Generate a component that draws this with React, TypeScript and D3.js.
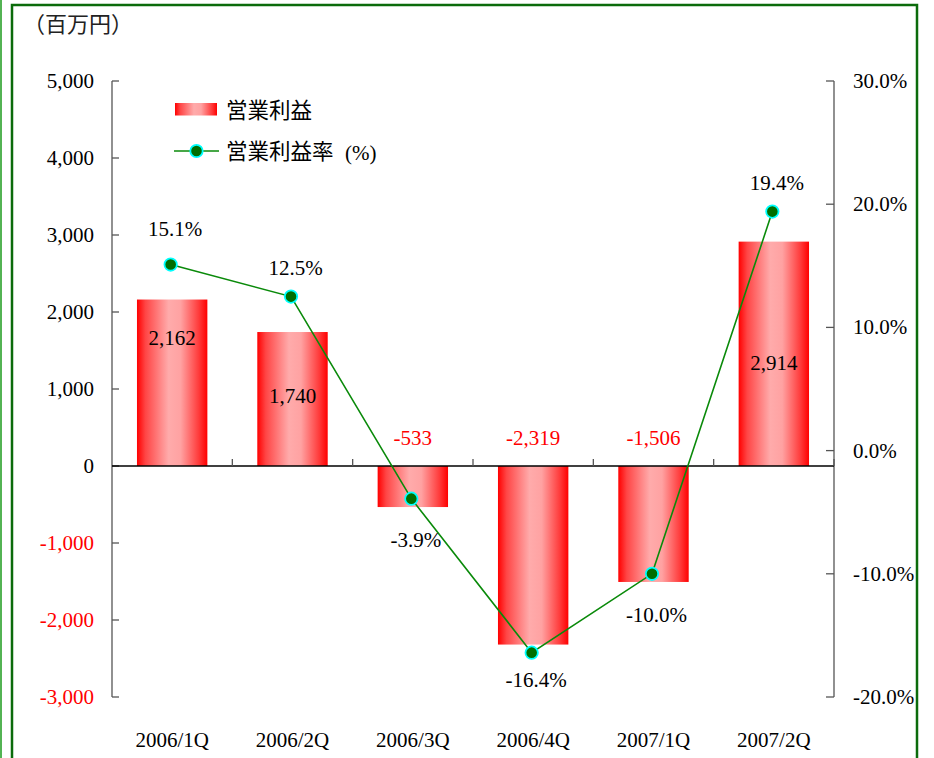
import React from "react";
import * as d3 from "d3";

const categories = ["2006/1Q", "2006/2Q", "2006/3Q", "2006/4Q", "2007/1Q", "2007/2Q"];
const operatingProfit = [2162, 1740, -533, -2319, -1506, 2914];
const profitRate = [15.1, 12.5, -3.9, -16.4, -10.0, 19.4];
const leftTicks = [5000, 4000, 3000, 2000, 1000, 0, -1000, -2000, -3000];
const rightTicks = [30, 20, 10, 0, -10, -20];

// layout offsets for labels (px)
const barLabelDy = [38, 64, 0, 0, 0, 121];
const rateLabelDy = [-36, -29, 41, 27, 41, -29];

const W = 934;
const H = 758;
const L = 112;
const R = 834;
const TOP = 81;
const BOT = 697;

const SERIF = "'Liberation Serif', 'Times New Roman', serif";
const CJK = "'Noto Sans CJK JP', 'Noto Sans', sans-serif";
const FS = 21;

const fmtBase = d3.format(",");
const fmt = (v: number) => fmtBase(v).replace("\u2212", "-");

export default function App() {
  const x = d3.scaleBand<string>().domain(categories).range([L, R]).padding(0);
  const yL = d3.scaleLinear().domain([-3000, 5000]).range([BOT, TOP]);
  const yR = d3.scaleLinear().domain([-20, 30]).range([BOT, TOP]);
  const bw = x.bandwidth() * 0.585;
  const cx = (c: string) => (x(c) as number) + x.bandwidth() / 2;
  const line = d3
    .line<number>()
    .x((_, i) => cx(categories[i]) - 1.5)
    .y((d) => yR(d));
  const y0 = yL(0);

  return (
    <svg
      width={W}
      height={H}
      style={{ position: "absolute", left: 0, top: 0, display: "block", background: "#fff" }}
    >
      <defs>
        <linearGradient id="barGrad" x1="0" x2="1" y1="0" y2="0">
          <stop offset="0" stopColor="#ff0000" />
          <stop offset="0.12" stopColor="#ff4545" />
          <stop offset="0.45" stopColor="#ffabab" />
          <stop offset="0.62" stopColor="#ffa2a2" />
          <stop offset="0.88" stopColor="#ff3a3a" />
          <stop offset="1" stopColor="#ff0000" />
        </linearGradient>
      </defs>

      {/* frame */}
      <line x1={1} x2={1} y1={0} y2={H} stroke="#1a9a1a" strokeWidth={1.5} />
      <path d={`M12,${H} L12,5 L917,5 L917,${H}`} fill="none" stroke="#0b6b0b" strokeWidth={2.5} />

      {/* unit */}
      <text x={23} y={32} fontFamily={CJK} fontSize={22} fill="#222">
        （百万円）
      </text>

      {/* bars */}
      {operatingProfit.map((v, i) => {
        const c = categories[i];
        const top = Math.min(yL(v), y0);
        const h = Math.abs(yL(v) - y0);
        return (
          <rect key={c} x={cx(c) - bw / 2} y={top} width={bw} height={h} fill="url(#barGrad)" />
        );
      })}

      {/* left axis */}
      <line x1={L} x2={L} y1={TOP} y2={BOT} stroke="#555" strokeWidth={1.3} />
      {leftTicks.map((t) => (
        <g key={t}>
          <line x1={L} x2={L + 7} y1={yL(t)} y2={yL(t)} stroke="#555" strokeWidth={1.3} />
          <text
            x={94}
            y={yL(t) + 7}
            textAnchor="end"
            fontFamily={SERIF}
            fontSize={FS}
            fill={t < 0 ? "#ff0000" : "#000"}
          >
            {fmt(t)}
          </text>
        </g>
      ))}

      {/* right axis */}
      <line x1={R} x2={R} y1={TOP} y2={BOT} stroke="#555" strokeWidth={1.3} />
      {rightTicks.map((t) => (
        <g key={t}>
          <line x1={R - 8} x2={R} y1={yR(t)} y2={yR(t)} stroke="#555" strokeWidth={1.3} />
          <text x={853} y={yR(t) + 7} fontFamily={SERIF} fontSize={FS} fill="#000">
            {t.toFixed(1) + "%"}
          </text>
        </g>
      ))}

      {/* zero line and category ticks */}
      <line x1={L} x2={R} y1={y0} y2={y0} stroke="#000" strokeWidth={1.5} />
      {categories.map((c) => (
        <line
          key={"ct" + c}
          x1={(x(c) as number) + x.bandwidth()}
          x2={(x(c) as number) + x.bandwidth()}
          y1={y0}
          y2={y0 - 7}
          stroke="#555"
          strokeWidth={1.3}
        />
      ))}

      {/* category labels */}
      {categories.map((c) => (
        <text key={"cl" + c} x={cx(c)} y={747} textAnchor="middle" fontFamily={SERIF} fontSize={FS} fill="#000">
          {c}
        </text>
      ))}

      {/* bar value labels */}
      {operatingProfit.map((v, i) => {
        const c = categories[i];
        const yy = v >= 0 ? yL(v) + barLabelDy[i] : y0 - 28;
        return (
          <text
            key={"bl" + c}
            x={cx(c)}
            y={yy + 7}
            textAnchor="middle"
            fontFamily={SERIF}
            fontSize={FS}
            fill={v < 0 ? "#ff0000" : "#000"}
          >
            {fmt(v)}
          </text>
        );
      })}

      {/* rate line */}
      <path d={line(profitRate) || ""} fill="none" stroke="#0a8a0a" strokeWidth={1.6} />
      {profitRate.map((v, i) => (
        <circle
          key={"pt" + i}
          cx={cx(categories[i]) - 1.5}
          cy={yR(v)}
          r={6.2}
          fill="#006e00"
          stroke="#00ffff"
          strokeWidth={1.8}
        />
      ))}
      {profitRate.map((v, i) => (
        <text
          key={"rl" + i}
          x={cx(categories[i]) + 3}
          y={yR(v) + rateLabelDy[i] + 7}
          textAnchor="middle"
          fontFamily={SERIF}
          fontSize={FS}
          fill="#000"
        >
          {v.toFixed(1) + "%"}
        </text>
      ))}

      {/* legend */}
      <rect x={175} y={103} width={42} height={12.5} fill="url(#barGrad)" />
      <text x={226} y={118} fontFamily={CJK} fontSize={21.5} fill="#000">
        営業利益
      </text>
      <line x1={174} x2={219} y1={151} y2={151} stroke="#0a8a0a" strokeWidth={1.6} />
      <circle cx={196.5} cy={151} r={6.2} fill="#006e00" stroke="#00ffff" strokeWidth={1.8} />
      <text x={226} y={159} fontFamily={CJK} fontSize={21.5} fill="#000">
        営業利益率
      </text>
      <text x={345} y={160} fontFamily={SERIF} fontSize={FS} fill="#000">
        (%)
      </text>
    </svg>
  );
}
